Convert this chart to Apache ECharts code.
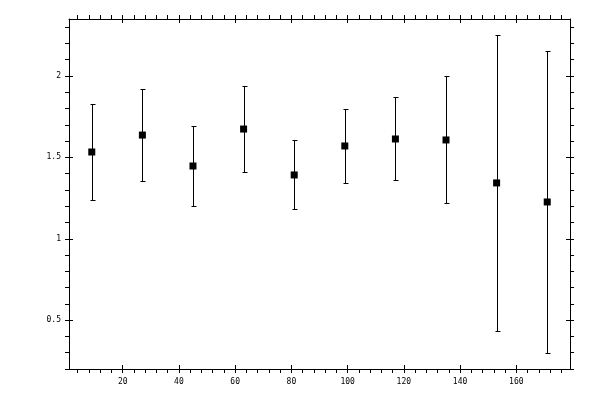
<!DOCTYPE html>
<html><head><meta charset="utf-8">
<script src="https://cdn.jsdelivr.net/npm/echarts@6/dist/echarts.min.js"></script>
<style>html,body{margin:0;padding:0;background:#fff}#c{width:600px;height:400px}</style>
</head><body><div id="c"></div>
<script>
const xValues = [9, 27, 45, 63, 81, 99, 117, 135, 153, 171];
const yValues = [1.533, 1.637, 1.447, 1.674, 1.392, 1.570, 1.613, 1.607, 1.343, 1.226];
const yErrors = [0.292, 0.280, 0.247, 0.264, 0.212, 0.230, 0.255, 0.390, 0.909, 0.927];
const xMajorTicks = [20, 40, 60, 80, 100, 120, 140, 160];
const xAllTicks = [4, 8, 12, 16, 20, 24, 28, 32, 36, 40, 44, 48, 52, 56, 60, 64, 68, 72, 76, 80, 84, 88, 92, 96, 100, 104, 108, 112, 116, 120, 124, 128, 132, 136, 140, 144, 148, 152, 156, 160, 164, 168, 172, 176];
const yMajorTicks = [0.5, 1, 1.5, 2];
const yAllTicks = [0.2, 0.3, 0.4, 0.5, 0.6, 0.7, 0.8, 0.9, 1, 1.1, 1.2, 1.3, 1.4, 1.5, 1.6, 1.7, 1.8, 1.9, 2, 2.1, 2.2, 2.3];
const xRange = [0.9, 179.1];
const yRange = [0.2, 2.35];

const chart = echarts.init(document.getElementById('c'), null, {renderer: 'canvas'});
const lineStyle = {color: '#000', width: 1};
const font = {color: '#000', fontFamily: 'DejaVu Sans Mono', fontSize: 8};

function mkX(pos, inside, withLine, labels) {
  return {
    type: 'value', position: pos, min: xRange[0], max: xRange[1],
    axisLine: {show: withLine, onZero: false, lineStyle: lineStyle},
    axisTick: {show: true, inside: inside, length: 4, lineStyle: lineStyle,
               customValues: inside ? xMajorTicks : xAllTicks},
    axisLabel: labels ? Object.assign({show: true, margin: 9, customValues: xMajorTicks}, font) : {show: false},
    splitLine: {show: false}, minorTick: {show: false}
  };
}
function mkY(pos, inside, withLine, labels) {
  return {
    type: 'value', position: pos, min: yRange[0], max: yRange[1],
    axisLine: {show: withLine, onZero: false, lineStyle: lineStyle},
    axisTick: {show: true, inside: inside, length: 4, lineStyle: lineStyle,
               customValues: inside ? yMajorTicks : yAllTicks},
    axisLabel: labels ? Object.assign({show: true, margin: 8, customValues: yMajorTicks}, font) : {show: false},
    splitLine: {show: false}, minorTick: {show: false}
  };
}

const errData = xValues.map((x, i) => [x, yValues[i] - yErrors[i], yValues[i] + yErrors[i]]);
const ptData = xValues.map((x, i) => [x, yValues[i]]);

chart.setOption({
  animation: false,
  backgroundColor: '#fff',
  grid: {left: 69, right: 30, top: 19, bottom: 31, containLabel: false},
  xAxis: [mkX('bottom', false, true, true), mkX('bottom', true, false, false),
          mkX('top', false, true, false), mkX('top', true, false, false)],
  yAxis: [mkY('left', false, true, true), mkY('left', true, false, false),
          mkY('right', false, true, false), mkY('right', true, false, false)],
  series: [
    {
      type: 'custom', xAxisIndex: 0, yAxisIndex: 0, z: 2,
      data: errData,
      encode: {x: 0, y: [1, 2]},
      renderItem: function (params, api) {
        const x = api.value(0);
        const pLo = api.coord([x, api.value(1)]);
        const pHi = api.coord([x, api.value(2)]);
        const cx = Math.round(pLo[0]) + 0.5;
        const yl = Math.round(pLo[1]) + 0.5;
        const yh = Math.round(pHi[1]) + 0.5;
        const w = 2;
        const st = {stroke: '#000', lineWidth: 1};
        return {type: 'group', children: [
          {type: 'line', shape: {x1: cx, y1: yl, x2: cx, y2: yh}, style: st},
          {type: 'line', shape: {x1: cx - w, y1: yl, x2: cx + w + 1, y2: yl}, style: st},
          {type: 'line', shape: {x1: cx - w, y1: yh, x2: cx + w + 1, y2: yh}, style: st}
        ]};
      }
    },
    {
      type: 'scatter', xAxisIndex: 0, yAxisIndex: 0, z: 3,
      symbol: 'rect', symbolSize: 7,
      itemStyle: {color: '#000', opacity: 1},
      data: ptData
    }
  ]
});
</script>
</body></html>
